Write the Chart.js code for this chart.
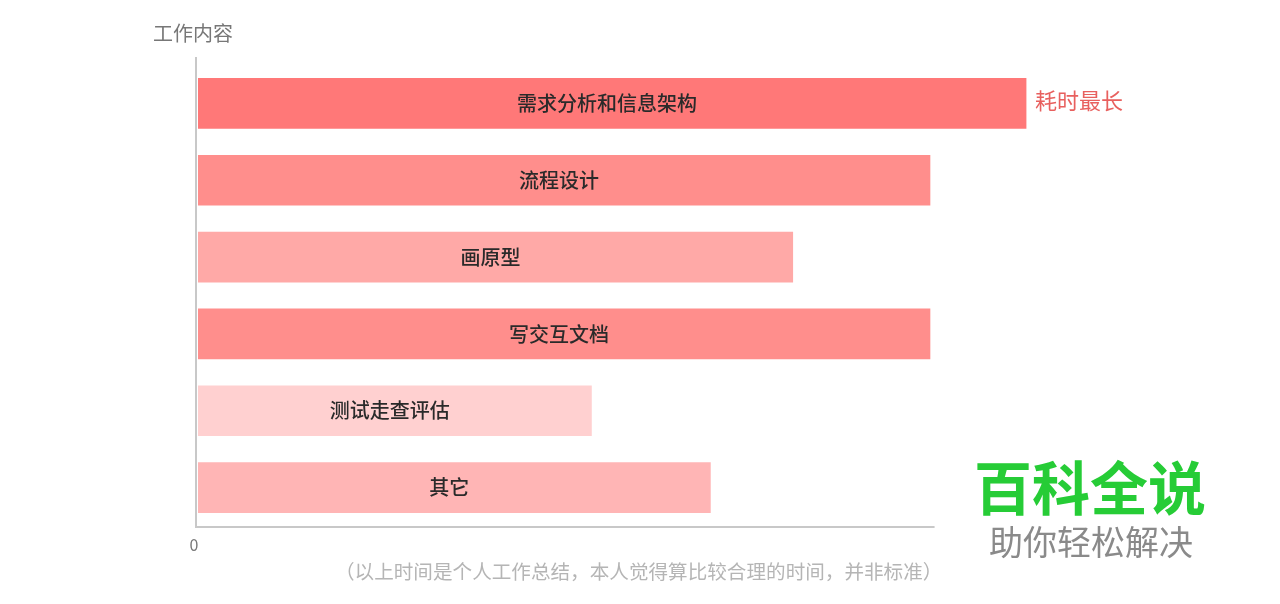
<!DOCTYPE html>
<html>
<head>
<meta charset="utf-8">
<script src="https://cdn.jsdelivr.net/npm/chart.js@4/dist/chart.umd.min.js"></script>
<style>
  body { margin: 0; background: #fff; font-family: "Noto Sans CJK SC", sans-serif; }
  #wrap { position: relative; width: 1280px; height: 604px; }
  .txt { position: absolute; white-space: nowrap; line-height: 1; }
  #title { left: 153px; top: 23px; font-size: 20px; color: #777; }
  #note { left: 335px; top: 561px; font-size: 19.6px; color: #b5b5b5; }
  #wm1 { left: 974px; top: 456px; font-size: 58px; font-weight: bold; color: #26cc36; }
  #wm2 { left: 989px; top: 524px; font-size: 34px; color: #8a8a8a; }
</style>
</head>
<body>
<div id="wrap">
  <canvas id="chart"></canvas>
  <div class="txt" id="title">工作内容</div>
  <div class="txt" id="note">（以上时间是个人工作总结，本人觉得算比较合理的时间，并非标准）</div>
  <div class="txt" id="wm1">百科全说</div>
  <div class="txt" id="wm2">助你轻松解决</div>
</div>
<script>
// data
const categories = ['需求分析和信息架构', '流程设计', '画原型', '写交互文档', '测试走查评估', '其它'];
const hours = [9.05, 8, 6.5, 8, 4.3, 5.6];
const barColors = ['#ff7878', '#ff8e8c', '#ffa9a7', '#ff8e8c', '#ffd0d0', '#ffb5b5'];
const axisEnd = 8.05;     // x axis line stops here
const longestNote = '耗时最长';

// draws axis lines and text labels
const labelsPlugin = {
  id: 'labels',
  afterDatasetsDraw(chart) {
    const { ctx, chartArea, scales } = chart;
    const meta = chart.getDatasetMeta(0);
    ctx.save();
    // axis lines
    ctx.fillStyle = '#c8c8c8';
    ctx.fillRect(chartArea.left - 3, chartArea.top - 8, 2, chartArea.bottom - chartArea.top + 10);
    ctx.fillRect(chartArea.left - 3, chartArea.bottom, scales.x.getPixelForValue(axisEnd) - chartArea.left + 3, 2);
    // zero tick
    ctx.fillStyle = '#777';
    ctx.font = '16px "Noto Sans CJK SC"';
    ctx.textAlign = 'center';
    ctx.textBaseline = 'middle';
    ctx.fillText('0', chartArea.left - 4, chartArea.bottom + 19);
    // category labels inside bars
    ctx.font = '500 20px "Noto Sans CJK SC"';
    ctx.fillStyle = '#2a2a2a';
    meta.data.forEach((bar, i) => {
      ctx.fillText(categories[i], (bar.base + bar.x) / 2 - 5, bar.y);
    });
    // note on the longest bar
    const maxI = hours.indexOf(Math.max(...hours));
    const b = meta.data[maxI];
    ctx.font = '22px "Noto Sans CJK SC"';
    ctx.fillStyle = '#e8605e';
    ctx.textAlign = 'left';
    ctx.fillText(longestNote, b.x + 9, b.y - 3);
    ctx.restore();
  }
};

new Chart(document.getElementById('chart'), {
  type: 'bar',
  data: {
    labels: categories,
    datasets: [{
      data: hours,
      backgroundColor: barColors,
      barThickness: 50
    }]
  },
  options: {
    indexAxis: 'y',
    responsive: true,
    maintainAspectRatio: false,
    animation: false,
    layout: { padding: { left: 198, right: 167, top: 65, bottom: 78 } },
    scales: {
      x: { display: false, min: 0, max: 10 },
      y: { display: false }
    },
    plugins: {
      legend: { display: false },
      tooltip: { enabled: false }
    }
  },
  plugins: [labelsPlugin]
});
</script>
</body>
</html>
